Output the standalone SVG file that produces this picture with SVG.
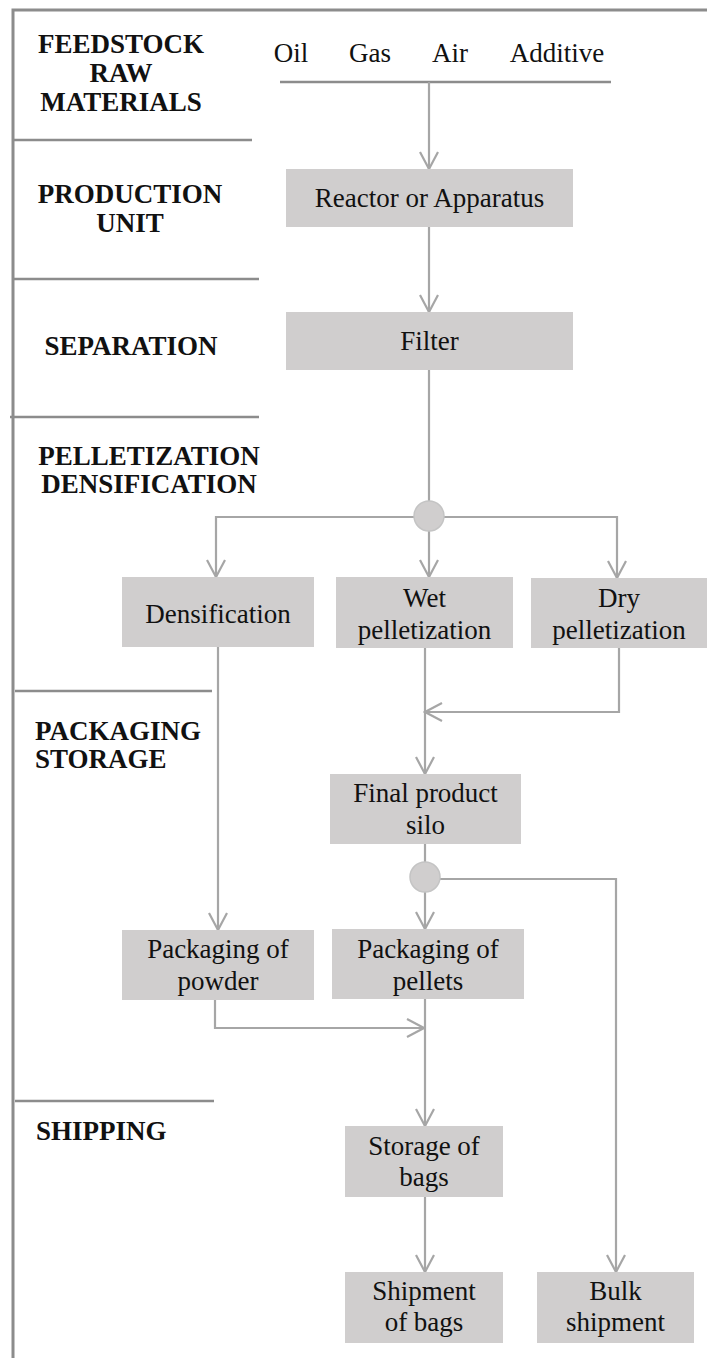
<svg xmlns="http://www.w3.org/2000/svg" width="707" height="1358" viewBox="0 0 707 1358">
<style>
.frame{stroke:#8c8c8c;stroke-width:3;fill:none}
.div{stroke:#8c8c8c;stroke-width:2.5;fill:none}
.box{fill:#d0cece}
.jn{fill:#d0cece;stroke:#c4c4c4;stroke-width:1.5}
.con{stroke:#a6a6a6;stroke-width:2.2;fill:none}
.feed{stroke:#8c8c8c;stroke-width:2.5;fill:none}
.t{font-family:"Liberation Serif","Times New Roman",serif;font-size:27px;fill:#111;text-anchor:middle}
.lab{font-family:"Liberation Serif","Times New Roman",serif;font-size:27px;font-weight:bold;fill:#111}
.c{text-anchor:middle}
</style>
<defs>
<marker id="ah" viewBox="-20 -12 22 24" refX="0" refY="0" markerWidth="22" markerHeight="24" markerUnits="userSpaceOnUse" orient="auto">
<path d="M-17,-9 L0,0 L-17,9" fill="none" stroke="#a6a6a6" stroke-width="2.2"/>
</marker>
</defs>
<rect width="707" height="1358" fill="#ffffff"/>
<g id="frame">
<path class="frame" d="M13,1358 V10 H707"/>
<path class="div" d="M13,140 H252"/>
<path class="div" d="M13,279 H259"/>
<path class="div" d="M10,417 H259"/>
<path class="div" d="M15,691 H212"/>
<path class="div" d="M15,1101 H214"/>
</g>
<g id="stage-labels">
<text class="lab c" x="121" y="53">FEEDSTOCK</text>
<text class="lab c" x="121" y="82">RAW</text>
<text class="lab c" x="121" y="111">MATERIALS</text>
<text class="lab c" x="130" y="203">PRODUCTION</text>
<text class="lab c" x="130" y="232">UNIT</text>
<text class="lab c" x="131" y="355">SEPARATION</text>
<text class="lab c" x="149" y="465">PELLETIZATION</text>
<text class="lab c" x="149" y="493">DENSIFICATION</text>
<text class="lab" x="35" y="740">PACKAGING</text>
<text class="lab" x="35" y="768">STORAGE</text>
<text class="lab" x="36" y="1140">SHIPPING</text>
</g>
<g id="feedstock">
<text class="t" x="291" y="62">Oil</text>
<text class="t" x="370" y="62">Gas</text>
<text class="t" x="450" y="62">Air</text>
<text class="t" x="557" y="62">Additive</text>
<path class="feed" d="M280,82 H611"/>
</g>
<g id="connectors">
<path class="con" d="M429,82 V169" marker-end="url(#ah)"/>
<path class="con" d="M429,227 V312" marker-end="url(#ah)"/>
<path class="con" d="M429,370 V501"/>
<path class="con" d="M414,517 H216 V577" marker-end="url(#ah)"/>
<path class="con" d="M429,531 V577" marker-end="url(#ah)"/>
<path class="con" d="M444,517 H617 V578" marker-end="url(#ah)"/>
<path class="con" d="M218,647 V930" marker-end="url(#ah)"/>
<path class="con" d="M425,648 V774" marker-end="url(#ah)"/>
<path class="con" d="M619,648 V712 H425" marker-end="url(#ah)"/>
<path class="con" d="M425,844 V862"/>
<path class="con" d="M425,892 V929" marker-end="url(#ah)"/>
<path class="con" d="M440,879 H616 V1272" marker-end="url(#ah)"/>
<path class="con" d="M215,1000 V1028 H424" marker-end="url(#ah)"/>
<path class="con" d="M425,999 V1126" marker-end="url(#ah)"/>
<path class="con" d="M425,1197 V1272" marker-end="url(#ah)"/>
</g>
<g id="reactor"><rect class="box" x="286" y="169" width="287" height="58"/><text class="t" x="429.5" y="207">Reactor or Apparatus</text></g>
<g id="filter"><rect class="box" x="286" y="312" width="287" height="58"/><text class="t" x="429.5" y="350">Filter</text></g>
<g id="junction1"><ellipse class="jn" cx="429" cy="516" rx="15" ry="15"/></g>
<g id="densification"><rect class="box" x="122" y="577" width="192" height="70"/><text class="t" x="218" y="623">Densification</text></g>
<g id="wet"><rect class="box" x="336" y="577" width="177" height="71"/><text class="t" x="424.5" y="607">Wet</text><text class="t" x="424.5" y="639">pelletization</text></g>
<g id="dry"><rect class="box" x="531" y="578" width="176" height="70"/><text class="t" x="619" y="607">Dry</text><text class="t" x="619" y="639">pelletization</text></g>
<g id="silo"><rect class="box" x="330" y="774" width="191" height="70"/><text class="t" x="425.5" y="802">Final product</text><text class="t" x="425.5" y="834">silo</text></g>
<g id="junction2"><ellipse class="jn" cx="425" cy="877" rx="15" ry="15"/></g>
<g id="pack-powder"><rect class="box" x="122" y="930" width="192" height="70"/><text class="t" x="218" y="958">Packaging of</text><text class="t" x="218" y="990">powder</text></g>
<g id="pack-pellets"><rect class="box" x="332" y="929" width="192" height="70"/><text class="t" x="428" y="958">Packaging of</text><text class="t" x="428" y="990">pellets</text></g>
<g id="storage-bags"><rect class="box" x="345" y="1126" width="158" height="71"/><text class="t" x="424" y="1155">Storage of</text><text class="t" x="424" y="1186">bags</text></g>
<g id="shipment-bags"><rect class="box" x="345" y="1272" width="158" height="71"/><text class="t" x="424" y="1300">Shipment</text><text class="t" x="424" y="1331">of bags</text></g>
<g id="bulk"><rect class="box" x="537" y="1272" width="157" height="71"/><text class="t" x="615.5" y="1300">Bulk</text><text class="t" x="615.5" y="1331">shipment</text></g>
</svg>
